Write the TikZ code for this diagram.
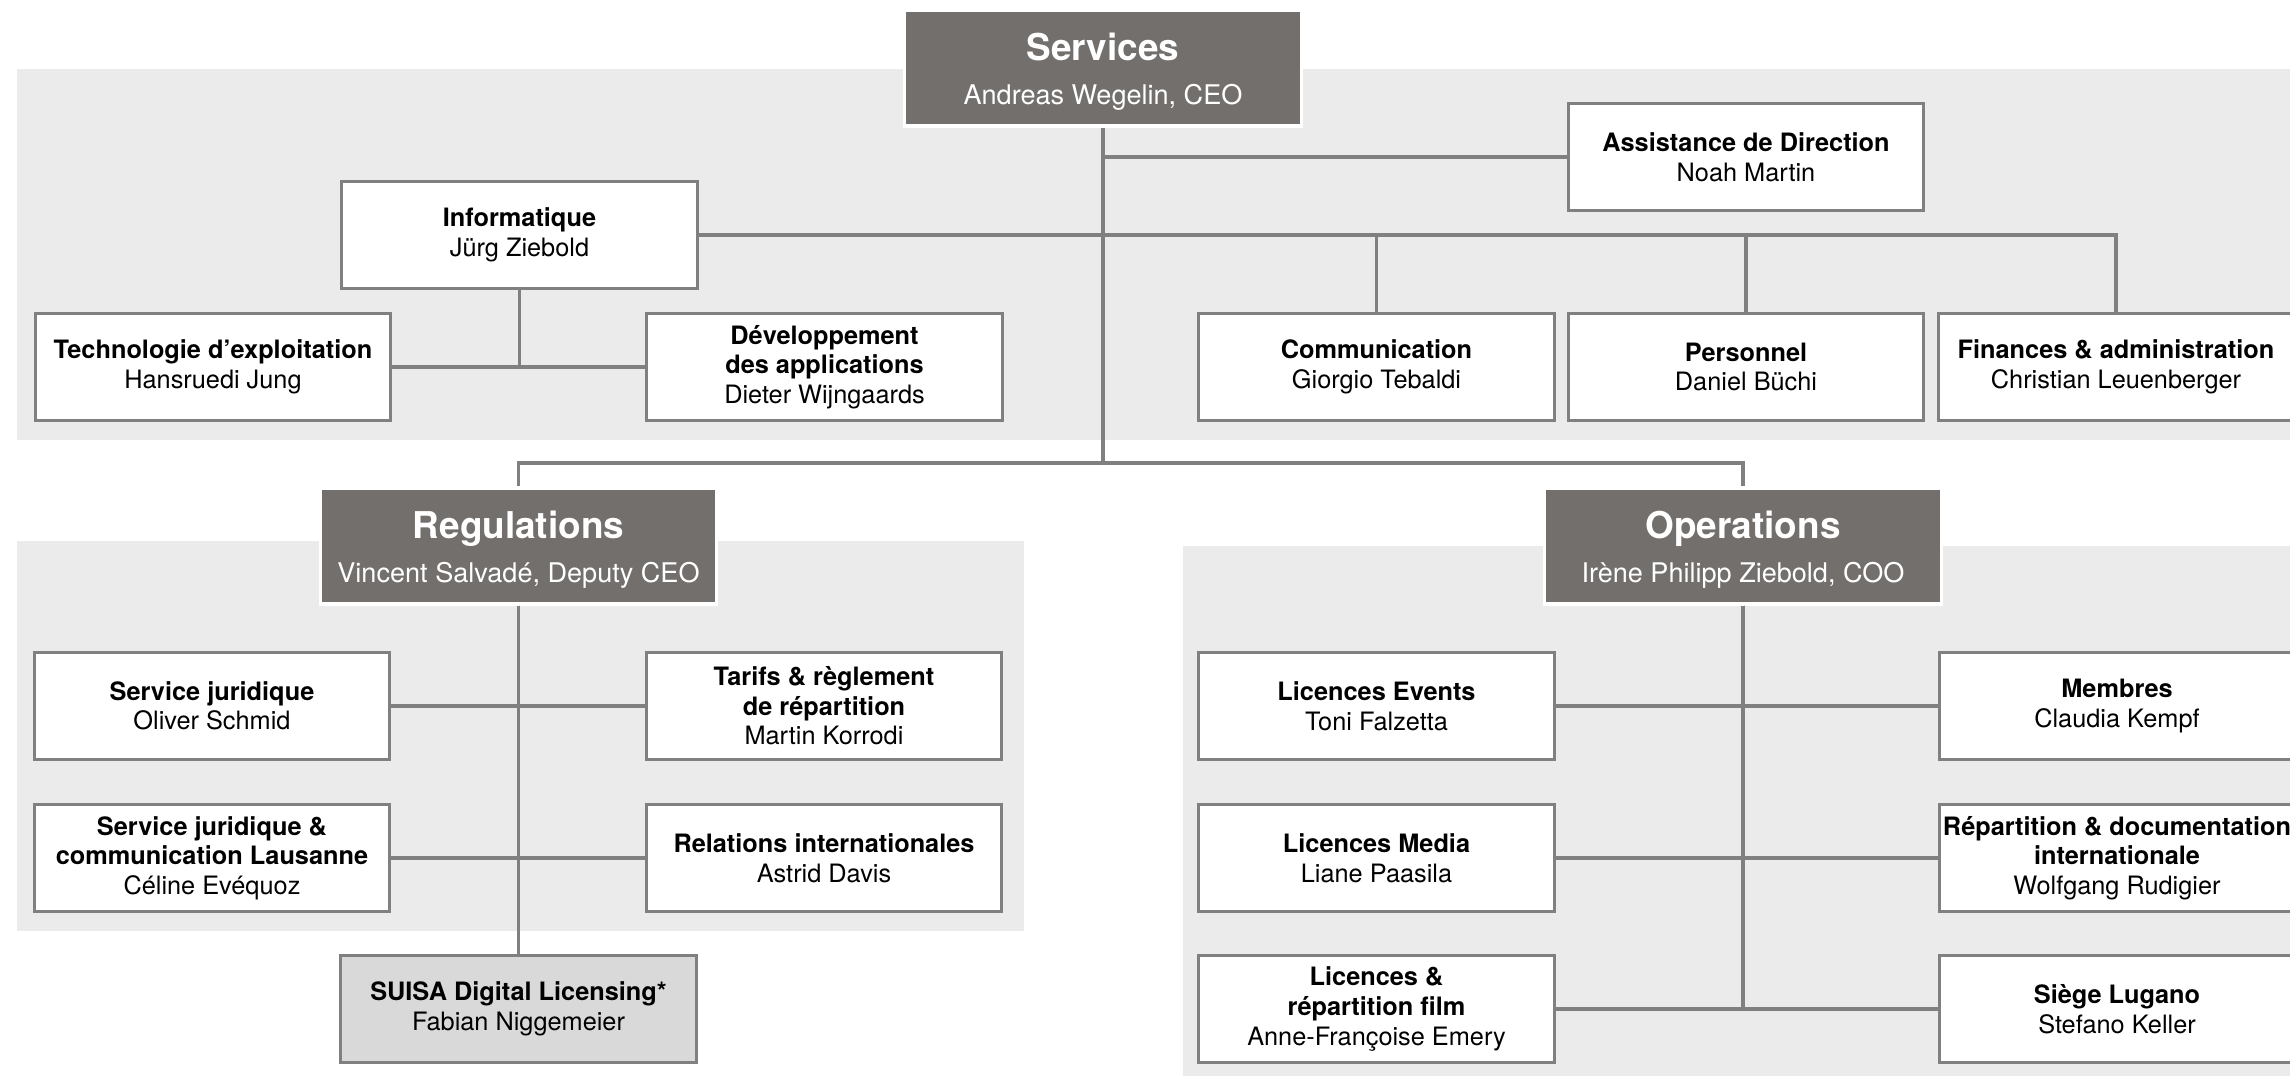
\documentclass[tikz,border=0pt]{standalone}
\usepackage{fontspec}
\setmainfont{TeX Gyre Heros}
\usetikzlibrary{calc}
\definecolor{headgray}{HTML}{736F6D}
\definecolor{bandgray}{HTML}{EBEBEB}
\definecolor{linegray}{HTML}{808080}
\definecolor{digitalgray}{HTML}{D9D9D9}
\tikzstyle{unitbox}=[draw=linegray,line width=0.9pt,fill=white,minimum width=3.55cm,minimum height=1.07cm,inner sep=0pt,align=center,font=\fontsize{7.2}{8.4}\selectfont]
\tikzstyle{digitalbox}=[unitbox,fill=digitalgray]
\tikzstyle{headbox}=[draw=white,line width=0.9pt,fill=headgray,text=white,minimum width=3.96cm,minimum height=1.16cm,inner sep=0pt,align=center,font=\fontsize{7.7}{12.5}\selectfont]
\tikzstyle{link}=[draw=linegray,line width=0.9pt]
\tikzstyle{band}=[fill=bandgray]
\newcommand{\headtitle}[1]{{\fontsize{10.5}{12.5}\selectfont\bfseries\rule{0pt}{10pt}#1}}
\newcommand{\drawunit}[6][unitbox]{
\node[#1] (#2) at (#3,#4) {#5\\#6};
}
\begin{document}
\begin{tikzpicture}[x=0.01cm,y=-0.01cm]
\useasboundingbox (0,0) rectangle (2290,1076);
\clip (0,0) rectangle (2290,1076);
% grey bands
\fill[band] (17,69) rectangle (2300,440);
\fill[band] (17,541) rectangle (1024,931);
\fill[band] (1183,546) rectangle (2300,1080);

% heads
\node[headbox] (serv) at (1103,68) {\headtitle{Services}\\Andreas Wegelin, CEO};
\node[headbox] (reg) at (518.5,546) {\headtitle{Regulations}\\Vincent Salvadé, Deputy CEO};
\node[headbox] (oper) at (1743,546) {\headtitle{Operations}\\Irène Philipp Ziebold, COO};
\coordinate (hub) at (1103,463);

% services
\drawunit{assist}{1746}{157}{\textbf{Assistance de Direction}}{Noah Martin}
\drawunit{info}{519.5}{235}{\textbf{Informatique}}{Jürg Ziebold}
\drawunit{tech}{213}{367}{\textbf{Technologie d’exploitation}}{Hansruedi Jung}
\drawunit{dev}{824.5}{367}{\textbf{Développement}\\\textbf{des applications}}{Dieter Wijngaards}
\drawunit{comm}{1376.5}{367}{\textbf{Communication}}{Giorgio Tebaldi}
\drawunit{pers}{1746}{367}{\textbf{Personnel}}{Daniel Büchi}
\drawunit{fin}{2116}{367}{\textbf{Finances \& administration}}{Christian Leuenberger}

% regulations
\drawunit{sj}{212}{706}{\textbf{Service juridique}}{Oliver Schmid}
\drawunit{tarifs}{824}{706}{\textbf{Tarifs \& règlement}\\\textbf{de répartition}}{Martin Korrodi}
\drawunit{sjl}{212}{858}{\textbf{Service juridique \&}\\\textbf{communication Lausanne}}{Céline Evéquoz}
\drawunit{relint}{824}{858}{\textbf{Relations internationales}}{Astrid Davis}
\drawunit[digitalbox]{suisa}{518.5}{1009}{\textbf{SUISA Digital Licensing*}}{Fabian Niggemeier}

% operations
\drawunit{lev}{1376.5}{706}{\textbf{Licences Events}}{Toni Falzetta}
\drawunit{memb}{2117}{706}{\textbf{Membres}}{Claudia Kempf}
\drawunit{lmed}{1376.5}{858}{\textbf{Licences Media}}{Liane Paasila}
\drawunit{rep}{2117}{858}{\textbf{Répartition \& documentation}\\\textbf{internationale}}{Wolfgang Rudigier}
\drawunit{lfilm}{1376.5}{1009}{\textbf{Licences \&}\\\textbf{répartition film}}{Anne-Françoise Emery}
\drawunit{lug}{2117}{1009}{\textbf{Siège Lugano}}{Stefano Keller}

% links
\draw[link] (serv.south) -- (hub);
\draw[link] (hub) -| (reg.north);
\draw[link] (hub) -| (oper.north);
\draw[link] (serv.south) |- (assist.west);
\foreach \b in {comm,pers,fin}
  \draw[link] (info.east) -| (\b.north);
\draw[link] (info.south) |- (tech.east);
\draw[link] (info.south) |- (dev.west);
\foreach \b in {sj,sjl}
  \draw[link] (reg.south) |- (\b.east);
\foreach \b in {tarifs,relint}
  \draw[link] (reg.south) |- (\b.west);
\draw[link] (reg.south) -- (reg.south |- suisa.north);
\foreach \b in {lev,lmed,lfilm}
  \draw[link] (oper.south) |- (\b.east);
\foreach \b in {memb,rep,lug}
  \draw[link] (oper.south) |- (\b.west);
\end{tikzpicture}
\end{document}
